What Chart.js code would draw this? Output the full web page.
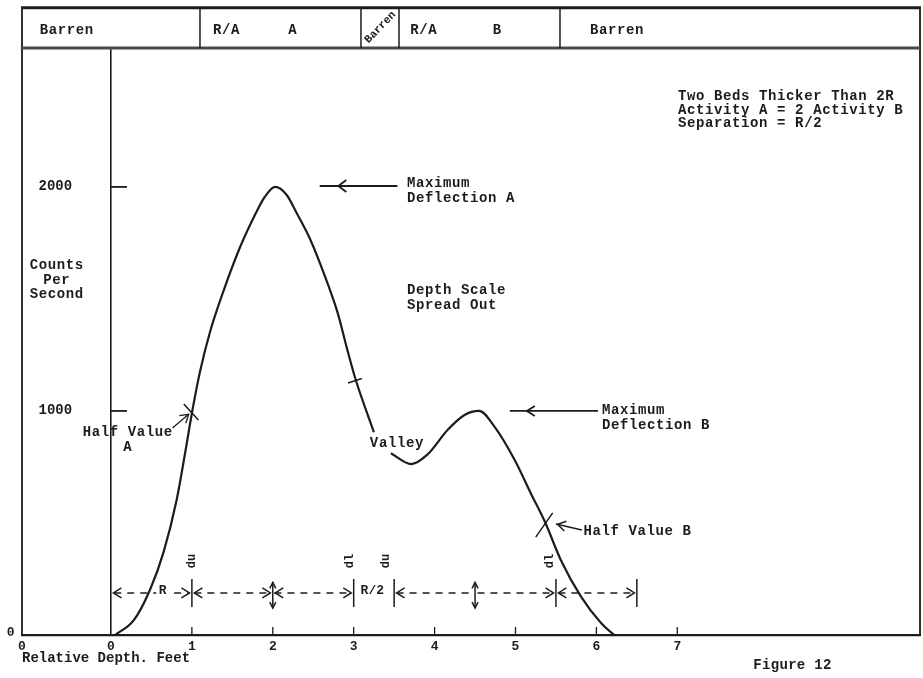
<!DOCTYPE html>
<html><head><meta charset="utf-8">
<script src="https://cdn.jsdelivr.net/npm/chart.js@4.4.1/dist/chart.umd.min.js"></script>
<style>html,body{margin:0;padding:0;background:#fff}#wrap{width:923px;height:678px;position:relative}</style>
</head><body><div id="wrap"><canvas id="c"></canvas></div>
<script>
// ---- data ----
const depthFeet = [0.05,0.28,0.48,0.65,0.81,0.92,1.00,1.10,1.23,1.39,1.60,1.81,1.90,2.03,2.17,2.30,2.47,2.63,2.80,2.92,3.02,3.25,3.35,3.46,3.71,3.91,4.16,4.37,4.55,4.74,4.99,5.19,5.37,5.56,5.81,6.06,6.22];
const countsPerSecond = [0,65,200,370,600,820,990,1175,1360,1535,1735,1897,1955,2000,1965,1880,1760,1615,1440,1275,1145,905,null,811,763,805,915,982,1000,930,781,632,500,335,171,52,0];
const xTickValues = [-1.1,0,1,2,3,4,5,6,7];
const xTickLabels = ['0','0','1','2','3','4','5','6','7'];
const yTickValues = [1000,2000];
const yTickLabels = ['1000','2000'];
const headerLabels = ['Barren','R/A','A','Barren','R/A','B','Barren'];

const FONT = "'Liberation Mono','Courier New',monospace";
const INK = '#1c1c1c';
const f = (sz) => `bold ${sz}px ${FONT}`;

const decor = {
  id: 'decor',
  afterDraw(chart) {
    const {ctx, chartArea: a, scales: {x: xs, y: ys}} = chart;
    const X = v => xs.getPixelForValue(v), Y = v => ys.getPixelForValue(v);
    ctx.save();
    ctx.strokeStyle = INK; ctx.fillStyle = INK;
    const line = (x1, y1, x2, y2, w = 1.5) => { ctx.lineWidth = w; ctx.beginPath(); ctx.moveTo(x1, y1); ctx.lineTo(x2, y2); ctx.stroke(); };
    const text = (s, x, y, sz = 14, align = 'left', ls = 0.6) => {
      ctx.font = f(sz); ctx.letterSpacing = ls + 'px'; ctx.textAlign = align; ctx.textBaseline = 'middle'; ctx.fillText(s, x, y); ctx.letterSpacing = '0px';
    };
    const chev = (vx, vy, ux, uy, len = 8, half = 5, w = 1.5) => {
      ctx.lineWidth = w; ctx.beginPath();
      ctx.moveTo(vx - ux * len - uy * half, vy - uy * len + ux * half);
      ctx.lineTo(vx, vy);
      ctx.lineTo(vx - ux * len + uy * half, vy - uy * len - ux * half);
      ctx.stroke();
    };
    // frame + header
    const top = Y(2800);
    line(a.left, top, a.left, a.bottom, 1.8);
    line(a.right, top, a.right, a.bottom, 1.8);
    line(a.left - 1, top, a.right + 1, top, 3);
    ctx.strokeStyle = '#4a4a4a'; line(a.left, a.top, a.right, a.top, 3); ctx.strokeStyle = INK;
    for (const d of [1.10, 3.09, 3.56, 5.55]) line(X(d), top, X(d), a.top, 1.5);
    const hy = Y(2700);
    text(headerLabels[0], X(-0.88), hy);
    text(headerLabels[1], X(1.26), hy);
    text(headerLabels[2], X(2.19), hy);
    ctx.save(); ctx.translate(X(3.33), Y(2712)); ctx.rotate(-0.8); text(headerLabels[3], 0, 0, 11, 'center', 0); ctx.restore();
    text(headerLabels[4], X(3.70), hy);
    text(headerLabels[5], X(4.72), hy);
    text(headerLabels[6], X(5.92), hy);

    // axis tick marks (inward)
    for (const v of [1, 2, 3, 4, 5, 6, 7]) line(X(v), a.bottom, X(v), a.bottom - 8, 1.3);
    for (const v of yTickValues) line(X(0), Y(v), X(0) + 16, Y(v), 1.8);
    text('0', X(-1.24), Y(10), 13, 'center', 0);

    // y title
    text('Counts', X(-0.67), Y(1651), 14, 'center');
    text('Per', X(-0.67), Y(1584), 14, 'center');
    text('Second', X(-0.67), Y(1518), 14, 'center');

    // notes
    text('Two Beds Thicker Than 2R', X(7.01), Y(2405));
    text('Activity A = 2 Activity B', X(7.01), Y(2343));
    text('Separation = R/2', X(7.01), Y(2281));

    text('Maximum', X(3.66), Y(2017));
    text('Deflection A', X(3.66), Y(1950));
    line(X(2.58), Y(2004), X(3.54), Y(2004), 1.8);
    chev(X(2.81), Y(2004), -1, 0, 8, 6, 1.8);

    text('Depth Scale', X(3.66), Y(1540));
    text('Spread Out', X(3.66), Y(1473));

    text('Half Value', X(-0.35), Y(906));
    text('A', X(0.15), Y(835));
    line(X(0.76), Y(924), X(0.96), Y(985), 1.3);
    { const dx = X(0.96) - X(0.76), dy = Y(985) - Y(924), L = Math.hypot(dx, dy); chev(X(0.96), Y(985), dx / L, dy / L, 8, 5, 1.3); }
    line(X(0.90), Y(1031), X(1.08), Y(960), 1.5);

    line(X(2.93), Y(1125), X(3.10), Y(1145), 1.5);

    text('Valley', X(3.20), Y(857));

    text('Maximum', X(6.07), Y(1004));
    text('Deflection B', X(6.07), Y(937));
    line(X(4.93), Y(1000), X(6.02), Y(1000), 1.8);
    chev(X(5.14), Y(1000), -1, 0, 8, 5, 1.8);

    text('Half Value B', X(5.84), Y(464));
    line(X(5.82), Y(469), X(5.50), Y(495), 1.5);
    { const dx = X(5.50) - X(5.82), dy = Y(495) - Y(469), L = Math.hypot(dx, dy); chev(X(5.52), Y(494), dx / L, dy / L, 8, 5, 1.5); }
    line(X(5.25), Y(437), X(5.46), Y(545), 1.5);

    // dimension row
    const ry = Y(188);
    for (const d of [1, 3, 3.5, 5.5, 6.5]) line(X(d), Y(250), X(d), Y(125), 1.5);
    ctx.setLineDash([7, 6]);
    for (const [d1, d2] of [[0.04, 0.56], [0.78, 0.97], [1.03, 1.98], [2.02, 2.97], [3.53, 4.47], [4.53, 5.47], [5.53, 6.47]]) line(X(d1), ry, X(d2), ry, 1.5);
    ctx.setLineDash([]);
    for (const [d, dir] of [[0.03, -1], [0.97, 1], [1.03, -1], [1.97, 1], [2.03, -1], [2.97, 1], [3.53, -1], [5.47, 1], [5.53, -1], [6.47, 1]]) chev(X(d), ry, dir, 0, 8, 5, 1.5);
    for (const d of [2, 4.5]) {
      line(X(d), Y(235), X(d), Y(120), 1.5);
      chev(X(d), Y(235), 0, -1, 6, 3, 1.5);
      chev(X(d), Y(120), 0, 1, 6, 3, 1.5);
    }
    text('R', X(0.64), Y(196), 13, 'center', 0);
    text('R/2', X(3.23), Y(196), 13, 'center', 0);
    for (const [s, d] of [['du', 1.0], ['dl', 2.95], ['du', 3.40], ['dl', 5.43]]) {
      ctx.save(); ctx.translate(X(d), Y(330)); ctx.rotate(-Math.PI / 2); text(s, 0, 0, 12, 'center', 0); ctx.restore();
    }

    text('Figure 12', X(7.94), Y(-135), 14, 'left', 0.3);
    ctx.restore();
  }
};

const lineFont = {family: FONT, size: 14, weight: 'bold'};
new Chart(document.getElementById('c'), {
  type: 'line',
  data: {
    datasets: [{
      data: depthFeet.map((d, i) => ({x: d, y: countsPerSecond[i]})),
      borderColor: INK, borderWidth: 2.2, pointRadius: 0, fill: false,
      cubicInterpolationMode: 'monotone', spanGaps: false
    }]
  },
  options: {
    responsive: true, maintainAspectRatio: false, animation: false, devicePixelRatio: 1,
    layout: {padding: {left: 22, right: 3, top: 48, bottom: 8}},
    plugins: {legend: {display: false}, tooltip: {enabled: false}},
    scales: {
      x: {
        type: 'linear', min: -1.1, max: 10, position: 'bottom',
        afterBuildTicks: s => { s.ticks = xTickValues.map(v => ({value: v})); },
        afterFit: s => { s.height = 35; },
        ticks: {callback: (v, i) => xTickLabels[i], autoSkip: false, maxRotation: 0, padding: 4, color: INK, font: {family: FONT, size: 13, weight: 'bold'}},
        grid: {display: false, drawTicks: false},
        border: {display: true, color: INK, width: 2.2},
        title: {display: true, text: 'Relative Depth. Feet', align: 'start', color: INK, font: lineFont, padding: {top: 0, bottom: 3}}
      },
      y: {
        type: 'linear', min: 0, max: 2620, position: {x: 0},
        afterBuildTicks: s => { s.ticks = yTickValues.map(v => ({value: v})); },
        ticks: {display: false},
        grid: {display: false, drawTicks: false},
        border: {display: true, color: INK, width: 1.6}
      },
      yLabels: {
        axis: 'y', type: 'linear', min: 0, max: 2620, position: {x: -0.48},
        afterBuildTicks: s => { s.ticks = yTickValues.map(v => ({value: v})); },
        ticks: {callback: (v, i) => yTickLabels[i], padding: 0, color: INK, font: lineFont},
        grid: {display: false, drawTicks: false},
        border: {display: false}
      }
    }
  },
  plugins: [decor]
});
</script></body></html>
